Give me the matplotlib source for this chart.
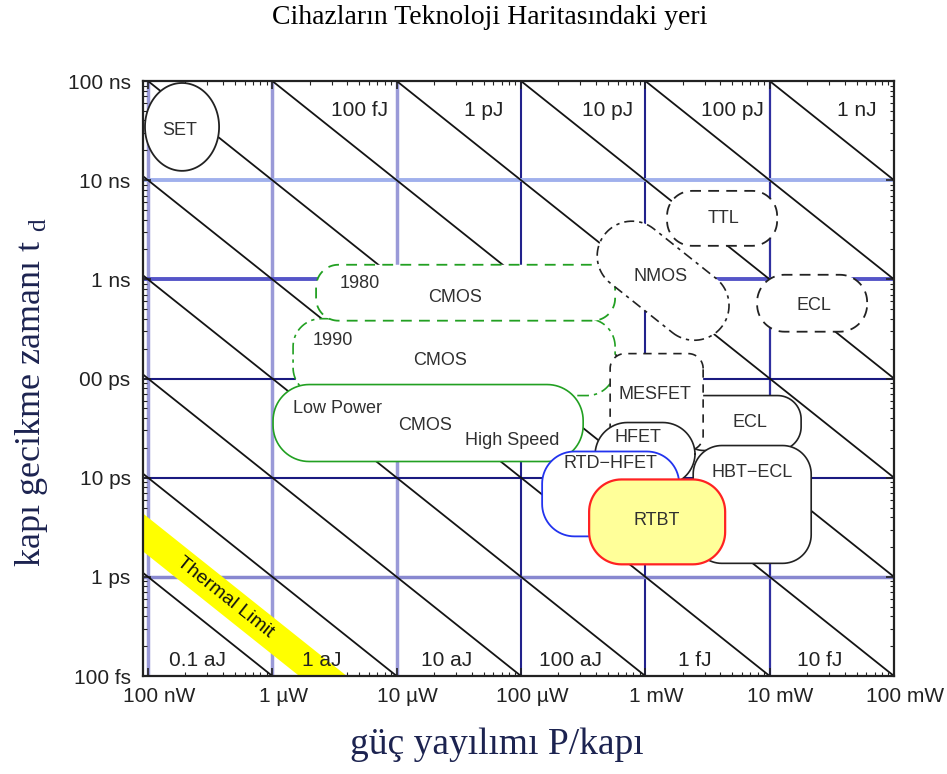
import numpy as np
import matplotlib.pyplot as plt
from matplotlib.patches import Polygon
from matplotlib import transforms

plt.rcParams['font.family'] = ['Liberation Sans', 'DejaVu Sans']

# axis decades
power_ticks = [1e-7, 1e-6, 1e-5, 1e-4, 1e-3, 1e-2, 1e-1]
power_labels = ['100 nW', '1 µW', '10 µW', '100 µW', '1 mW', '10 mW', '100 mW']
delay_ticks = [1e-13, 1e-12, 1e-11, 1e-10, 1e-9, 1e-8, 1e-7]
delay_labels = ['100 fs', '1 ps', '10 ps', '00 ps', '1 ns', '10 ns', '100 ns']

# constant switching-energy lines (J)
energy_lines = [1e-19, 1e-18, 1e-17, 1e-16, 1e-15, 1e-14,
                1e-13, 1e-12, 1e-11, 1e-10, 1e-9]
top_energies = [1e-13, 1e-12, 1e-11, 1e-10, 1e-9]
top_energy_labels = ['100 fJ', '1 pJ', '10 pJ', '100 pJ', '1 nJ']
bottom_energies = [1e-19, 1e-18, 1e-17, 1e-16, 1e-15, 1e-14]
bottom_energy_labels = ['0.1 aJ', '1 aJ', '10 aJ', '100 aJ', '1 fJ', '10 fJ']

# thermal limit band (J)
thermal_limit = [1.65e-19, 3.98e-19]

# device regions, log10 of power (W) and delay (s)
device_names = ['CMOS 1990', 'CMOS 1980', 'Low Power CMOS', 'TTL', 'ECL',
                'ECL 2', 'MESFET', 'HFET', 'HBT-ECL', 'RTD-HFET', 'RTBT']
device_logp = [(-5.833, -3.243), (-5.648, -3.243), (-5.994, -3.500),
               (-2.825, -1.940), (-2.101, -1.216), (-2.720, -1.747),
               (-3.283, -2.535), (-3.404, -2.600), (-2.615, -1.666),
               (-3.830, -2.728), (-3.452, -2.358)]
device_logt = [(-10.172, -9.397), (-9.417, -8.853), (-10.837, -10.061),
               (-8.662, -8.108), (-9.528, -8.954), (-10.726, -10.172),
               (-10.726, -9.749), (-11.079, -10.444), (-11.864, -10.676),
               (-11.592, -10.736), (-11.874, -11.018)]
device_radius = [0.225, 0.18, 0.29, 0.2, 0.22, 0.19, 0.12, 0.26, 0.23, 0.26, 0.26]

# SET (ellipse) and NMOS (tilted) regions, log10 units
set_center = (-6.726, -7.463)
set_axes = (0.298, 0.443)
nmos_center = (-2.857, -9.014)
nmos_size = (1.20, 0.56)

# region labels
region_texts = ['SET', '1990', 'CMOS', '1980', 'CMOS', 'Low Power', 'CMOS',
                'High Speed', 'TTL', 'NMOS', 'ECL', 'ECL', 'MESFET', 'HFET',
                'HBT\u2212ECL', 'RTD\u2212HFET', 'RTBT']
region_logp = [-6.743, -5.512, -4.651, -5.294, -4.530, -5.833, -4.772,
               -4.072, -2.374, -2.881, -1.642, -2.157, -2.921, -3.058,
               -2.141, -3.283, -2.905]
region_logt = [-7.504, -9.618, -9.820, -9.044, -9.185, -10.303, -10.474,
               -10.625, -8.390, -8.974, -9.266, -10.444, -10.162, -10.595,
               -10.948, -10.857, -11.431]

KY = 1.252  # y-decade / x-decade pixel ratio, so corners look round
green = '#22a022'
styles = {
    'CMOS 1990': dict(fc='white', ec=green, ls=(0, (7, 3, 2, 3)), lw=1.2),
    'CMOS 1980': dict(fc='white', ec=green, ls=(0, (6, 4)), lw=1.3),
    'Low Power CMOS': dict(fc='white', ec=green, ls='-', lw=1.2),
    'TTL': dict(fc='white', ec='#222222', ls=(0, (6, 4)), lw=1.3),
    'ECL': dict(fc='white', ec='#222222', ls=(0, (6, 4)), lw=1.3),
    'ECL 2': dict(fc='white', ec='#222222', ls='-', lw=1.2),
    'MESFET': dict(fc='white', ec='#222222', ls=(0, (5, 4)), lw=1.2),
    'HFET': dict(fc='white', ec='#222222', ls='-', lw=1.2),
    'HBT-ECL': dict(fc='white', ec='#222222', ls='-', lw=1.2),
    'RTD-HFET': dict(fc='white', ec='#2233ee', ls='-', lw=1.3),
    'RTBT': dict(fc='#ffff99', ec='#ff2222', ls='-', lw=1.6),
}


def rounded_box(x0, x1, y0, y1, r):
    ry = r * KY
    pts = []
    for cx, cy, a0 in [(x1 - r, y1 - ry, 0), (x0 + r, y1 - ry, 90),
                       (x0 + r, y0 + ry, 180), (x1 - r, y0 + ry, 270)]:
        a = np.radians(np.linspace(a0, a0 + 90, 20))
        pts += list(zip(cx + r * np.cos(a), cy + ry * np.sin(a)))
    return np.array(pts)


def tilted_stadium(cx, cy, length, width, angle):
    # built in isotropic units, then y stretched back to delay decades
    r = width / 2
    pts = []
    for cx0, a0 in [(length / 2 - r, -90), (-length / 2 + r, 90)]:
        a = np.radians(np.linspace(a0, a0 + 180, 40))
        pts += list(zip(cx0 + r * np.cos(a), r * np.sin(a)))
    pts = np.array(pts)
    th = np.radians(angle)
    xr = pts[:, 0] * np.cos(th) - pts[:, 1] * np.sin(th)
    yr = pts[:, 0] * np.sin(th) + pts[:, 1] * np.cos(th)
    return np.column_stack([cx + xr, cy + yr * KY])


fig = plt.figure(figsize=(9.47, 7.74), dpi=100)
ax = fig.add_axes([143 / 947, 1 - 676 / 774, 751 / 947, 595 / 774])
ax.set_xscale('log')
ax.set_yscale('log')
ax.set_xlim(10 ** -7.04, 1e-1)
ax.set_ylim(1e-13, 1e-7)

# decade grid
vgrid_colors = ['#9a9ad8', '#9a9ad8', '#9a9ad8', '#22228c', '#22228c', '#3030a0']
vgrid_widths = [2.5, 2.5, 2.5, 1.5, 1.5, 1.6]
for p, c, w in zip(power_ticks[:-1], vgrid_colors, vgrid_widths):
    ax.axvline(p, color=c, lw=w, zorder=1)
hgrid_colors = ['#8888d0', '#1a1a80', '#1a1a80', '#5555c8', '#a0b0ec']
hgrid_widths = [2.5, 1.5, 1.5, 2.8, 2.8]
for t, c, w in zip(delay_ticks[1:-1], hgrid_colors, hgrid_widths):
    ax.axhline(t, color=c, lw=w, zorder=1)

# energy lines
pw = np.logspace(-7.1, -0.9, 100)
for e in energy_lines:
    ax.plot(pw, e / pw, color='#141414', lw=1.3, zorder=2)

# thermal limit
ax.fill_between(pw, thermal_limit[0] / pw, thermal_limit[1] / pw,
                color='#ffff00', lw=0, zorder=3)
d = ax.transData.transform([(1e-7, 1e-12), (1e-6, 1e-13)])
ang = np.degrees(np.arctan2(d[1, 1] - d[0, 1], d[1, 0] - d[0, 0]))
e_mid = np.sqrt(thermal_limit[0] * thermal_limit[1])
p_txt = 10 ** -6.38
ax.text(p_txt, e_mid / p_txt, 'Thermal Limit', rotation=ang,
        rotation_mode='anchor', ha='center', va='center', fontsize=14,
        color='#111111', zorder=4)

# energy labels
for e, lab in zip(top_energies, top_energy_labels):
    ax.text(e / 1e-7 * 10 ** 0.70, 10 ** -7.3, lab, ha='center', va='center',
            fontsize=15, color='#222222', zorder=3)
for e, lab in zip(bottom_energies, bottom_energy_labels):
    ax.text(e / 1e-13 * 10 ** -0.60, 10 ** -12.84, lab, ha='center',
            va='center', fontsize=15, color='#222222', zorder=3)

# device regions
a = np.linspace(0, 2 * np.pi, 120)
sx = set_center[0] + set_axes[0] * np.cos(a)
sy = set_center[1] + set_axes[1] * np.sin(a)
ax.add_patch(Polygon(np.column_stack([10 ** sx, 10 ** sy]), closed=True,
                     fc='white', ec='#222222', lw=1.3, zorder=5))

z = 6
for name, (x0, x1), (y0, y1), r in zip(device_names, device_logp,
                                       device_logt, device_radius):
    if name == 'ECL':
        nm = tilted_stadium(nmos_center[0], nmos_center[1], nmos_size[0],
                            nmos_size[1], ang)
        ax.add_patch(Polygon(10 ** nm, closed=True, fc='white', ec='#222222',
                             ls=(0, (6, 3, 2, 3)), lw=1.2, zorder=z))
        z += 1
    pts = rounded_box(x0, x1, y0, y1, r)
    st = styles[name]
    ax.add_patch(Polygon(10 ** pts, closed=True, fc=st['fc'], ec=st['ec'],
                         ls=st['ls'], lw=st['lw'], zorder=z))
    z += 1

for txt, lp, lt in zip(region_texts, region_logp, region_logt):
    ha = 'left' if txt == 'Low Power' else 'center'
    ax.text(10 ** lp, 10 ** lt, txt, ha=ha, va='center', fontsize=13,
            color='#303030', zorder=30)

# axes, ticks
ax.set_xticks(power_ticks, power_labels)
ax.set_yticks(delay_ticks, delay_labels)
ax.tick_params(which='both', direction='in', top=True, right=True,
               labelsize=15, colors='#222222')
ax.tick_params(which='major', length=6, width=1.2)
ax.tick_params(which='minor', length=3, width=0.8)
ax.tick_params(axis='x', pad=8)
ax.tick_params(axis='y', pad=9)
off = transforms.ScaledTranslation(11 / 100, 0, fig.dpi_scale_trans)
for lab in ax.get_xticklabels():
    lab.set_transform(lab.get_transform() + off)
for s in ax.spines.values():
    s.set_linewidth(1.6)
    s.set_color('#222222')
    s.set_zorder(40)

fig.text(490 / 947, 1 - 18 / 774, 'Cihazların Teknoloji Haritasındaki yeri',
         ha='center', va='center', fontsize=20, family='Liberation Serif')
fig.text(497 / 947, 1 - 745 / 774, 'güç yayılımı P/kapı', ha='center',
         va='center', fontsize=27, family='Liberation Serif', color='#1c2350')
fig.text(32 / 947, 1 - 392 / 774, 'kapı gecikme zamanı t $_{\\mathregular{d}}$',
         ha='center', va='center', rotation=90, fontsize=26,
         family='Liberation Serif', color='#1c2350')

fig.savefig('out.png', dpi=100)
